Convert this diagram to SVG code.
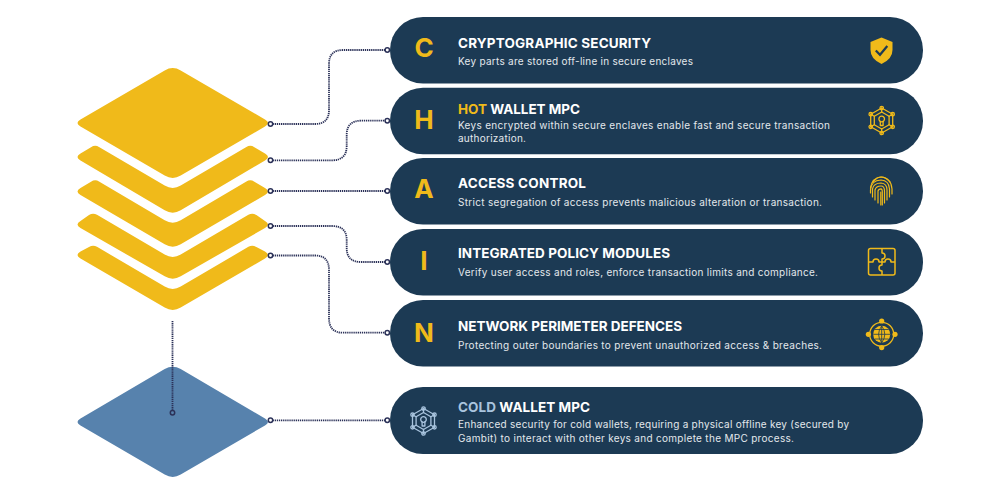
<svg xmlns="http://www.w3.org/2000/svg" width="1000" height="500" viewBox="0 0 1000 500">
<style>
.y{fill:#f0ba1a}
.pill{fill:#1c3a54}
.wire{fill:none;stroke:#2b3158;stroke-width:1.8;stroke-dasharray:1.3 .8}
.dot{fill:#fff;stroke:#2b3158;stroke-width:1.5}
.ltr{font:700 26px Inter,"Liberation Sans",sans-serif;fill:#f0ba1a;text-anchor:middle}
.ttl{font:700 13.5px Inter,"Liberation Sans",sans-serif;fill:#fff}
.dsc{font:400 10px Inter,"Liberation Sans",sans-serif;fill:#e3e8ec}
.ln{fill:none;stroke-width:1.3;stroke-linecap:round;stroke-linejoin:round}
</style>
<defs>
<g id="net" class="ln">
<path d="M0,-12.5L11,-6.3V6.3L0,12.5L-11,6.3V-6.3Z"/>
<path d="M0,-8.5L7.4,-4.2V4.2L0,8.5L-7.4,4.2V-4.2Z"/>
<path d="M0,-12.5V-8.5M11,-6.3L7.4,-4.2M11,6.3L7.4,4.2M0,12.5V8.5M-11,6.3L-7.4,4.2M-11,-6.3L-7.4,-4.2"/>
<circle cy="-12.5" r="1.7"/><circle cx="11" cy="-6.3" r="1.7"/><circle cx="11" cy="6.3" r="1.7"/><circle cy="12.5" r="1.7"/><circle cx="-11" cy="6.3" r="1.7"/><circle cx="-11" cy="-6.3" r="1.7"/>
<circle cy="-1.5" r="2.8"/><path d="M-1.4,1V5H1.4V1"/>
</g>
</defs>
<g id="layer-stack">
<path id="layer-c" class="y" d="M164.7,70.4Q172.7,65.7 180.7,70.4L265,119.5Q271,123 265,126.5L180.7,175.6Q172.7,180.3 164.7,175.6L80.5,126.5Q74.5,123 80.5,119.5Z"/>
<path id="layer-h" class="y" d="M80.5,153.5L91,147.3Q95,144.5 99,147L164.7,185.6Q172.7,190.3 180.7,185.6L246.4,147Q250.4,144.5 254.4,147.3L265,153.5Q271,157 265,160.5L180.7,210.3Q172.7,215 164.7,210.3L80.5,160.5Q74.5,157 80.5,153.5Z"/>
<path id="layer-a" class="y" d="M80.5,188L91,181.8Q95,179 99,181.5L164.7,220.3Q172.7,225 180.7,220.3L246.4,181.5Q250.4,179 254.4,181.8L265,188Q271,191.5 265,195L180.7,244.3Q172.7,249 164.7,244.3L80.5,195Q74.5,191.5 80.5,188Z"/>
<path id="layer-i" class="y" d="M80.5,221L89,215Q93,212.5 97,214.8L164.7,254.6Q172.7,259.3 180.7,254.6L248.4,214.8Q252.4,212.5 256.4,215L265,221Q271,224.5 265,228L180.7,276.3Q172.7,281 164.7,276.3L80.5,228Q74.5,224.5 80.5,221Z"/>
<path id="layer-n" class="y" d="M80.5,251.5L89,247Q93,244.5 97,246.8L164.7,286.6Q172.7,291.3 180.7,286.6L248.4,246.8Q252.4,244.5 256.4,247L265,251.5Q271,255 265,258.5L180.7,307.6Q172.7,312.3 164.7,307.6L80.5,258.5Q74.5,255 80.5,251.5Z"/>
<path id="layer-cold" fill="#5782ad" d="M164.7,369.1Q172.7,364.4 180.7,369.1L265,418.4Q271,421.9 265,425.4L180.7,474.6Q172.7,479.3 164.7,474.6L80.5,425.4Q74.5,421.9 80.5,418.4Z"/>
</g>
<g id="connectors">
<path class="wire" d="M270.5,124H315Q329,124 329,110V64Q329,50 343,50H387"/>
<path class="wire" d="M270.5,160.3H332Q346.7,160.3 346.7,146V135Q346.7,120.7 361,120.7H387"/>
<path class="wire" d="M270.5,191H387"/>
<path class="wire" d="M270.5,226H332Q346.700,226 346.700,240V248Q346.700,262 361,262H387"/>
<path class="wire" d="M270.5,255.5H315Q329,255.5 329,270V318Q329,332.700 343,332.700H387"/>
<path class="wire" d="M270.5,420.3H387"/>
<path class="wire" d="M172.5,321V412.7"/>
<circle class="dot" cx="270.5" cy="124" r="2.2"/><circle class="dot" cx="270.5" cy="160.3" r="2.2"/><circle class="dot" cx="270.5" cy="191" r="2.2"/><circle class="dot" cx="270.5" cy="226" r="2.2"/><circle class="dot" cx="270.5" cy="255.5" r="2.2"/><circle class="dot" cx="270.5" cy="420.3" r="2.2"/>
<circle class="dot" cx="387.3" cy="50" r="2.2"/><circle class="dot" cx="387.3" cy="120.7" r="2.2"/><circle class="dot" cx="387.3" cy="191" r="2.2"/><circle class="dot" cx="387.3" cy="262" r="2.2"/><circle class="dot" cx="387.3" cy="332.7" r="2.2"/><circle class="dot" cx="387.3" cy="420.3" r="2.2"/>
<circle cx="172.5" cy="412.7" r="2.2" fill="#5782ad" stroke="#2b3158" stroke-width="1.5"/>
</g>
<g id="node-c">
<rect class="pill" x="390" y="17" width="533" height="66.500" rx="33"/>
<text class="ltr" x="424" y="56.500">C</text>
<text class="ttl" x="458" y="47.500" textLength="193">CRYPTOGRAPHIC SECURITY</text>
<text class="dsc" x="458" y="65" textLength="235">Key parts are stored off-line in secure enclaves</text>
<path class="y" d="M881.500,37.500L892.500,42V50Q892.500,59 881.500,64Q870.500,59 870.500,50V42Z"/>
<path d="M875.800,50.500L880,54.800L887.300,46" fill="none" stroke="#1c3a54" stroke-width="2.200"/>
</g>
<g id="node-h">
<rect class="pill" x="390" y="87.700" width="533" height="66.500" rx="33"/>
<text class="ltr" x="424" y="129">H</text>
<text class="ttl" x="458" y="113.500" textLength="122"><tspan fill="#f0ba1a">HOT</tspan> WALLET MPC</text>
<text class="dsc" x="458" y="129" textLength="372">Keys encrypted within secure enclaves enable fast and secure transaction</text>
<text class="dsc" x="458" y="141.500" textLength="68">authorization.</text>
<use href="#net" x="881.700" y="120.500" stroke="#f0ba1a"/>
</g>
<g id="node-a">
<rect class="pill" x="390" y="158" width="533" height="66.500" rx="33"/>
<text class="ltr" x="424" y="198">A</text>
<text class="ttl" x="458" y="187.500" textLength="128">ACCESS CONTROL</text>
<text class="dsc" x="458" y="206" textLength="364">Strict segregation of access prevents malicious alteration or transaction.</text>
<g fill="none" stroke="#f0ba1a" stroke-width="1.200" stroke-linecap="round">
<path d="M873,182Q881,172 890,182"/>
<path d="M870.500,188Q872,177.500 881,177Q891,177.500 892,189V194"/>
<path d="M870.500,193V190Q871,180.500 881,180Q889,180.500 889.500,189V197"/>
<path d="M872.500,197V189Q873.500,183 881,183Q887,183.500 887,190V200"/>
<path d="M875,200V190Q876,186 881,186Q884.500,186 884.500,191V203"/>
<path d="M878,203V191Q878.500,188.800 881,188.800Q882.300,189 882.300,192V205"/>
<path d="M880.800,192V205"/>
</g>
</g>
<g id="node-i">
<rect class="pill" x="390" y="229" width="533" height="66.500" rx="33"/>
<text class="ltr" x="424" y="270">I</text>
<text class="ttl" x="458" y="258" textLength="212">INTEGRATED POLICY MODULES</text>
<text class="dsc" x="458" y="276" textLength="360">Verify user access and roles, enforce transaction limits and compliance.</text>
<g fill="none" stroke="#f0ba1a" stroke-width="1.500" stroke-linejoin="round">
<rect x="868.500" y="248.500" width="26.500" height="26.500" rx="2"/>
<path d="M882,248.500V253Q885,253 885,256Q885,259 882,259V262"/>
<path d="M868.500,262H873Q873,259 876,259Q879,259 879,262H882V265Q879,265 879,268Q879,271 882,271V275"/>
<path d="M882,262H885Q885,259 888,259Q891,259 891,262H895"/>
</g>
</g>
<g id="node-n">
<rect class="pill" x="390" y="300" width="533" height="66.500" rx="33"/>
<text class="ltr" x="424" y="342">N</text>
<text class="ttl" x="458" y="331" textLength="224">NETWORK PERIMETER DEFENCES</text>
<text class="dsc" x="458" y="349" textLength="364">Protecting outer boundaries to prevent unauthorized access &amp; breaches.</text>
<circle cx="881.700" cy="334.300" r="12" fill="none" stroke="#f0ba1a" stroke-width="1.300"/>
<circle class="y" cx="881.700" cy="334.300" r="8.500"/>
<g class="y"><circle cx="881.700" cy="321" r="2.600"/><circle cx="881.700" cy="347.600" r="2.600"/><circle cx="868.400" cy="334.300" r="2.600"/><circle cx="895" cy="334.300" r="2.600"/></g>
<path d="M873.200,334.300H890.200M875,329.500H888.500M875,339H888.500M881.700,325.800V342.800M881.700,325.800Q875.500,334.300 881.700,342.800M881.700,325.800Q887.900,334.300 881.700,342.800" fill="none" stroke="#1c3a54" stroke-width=".8"/>
</g>
<g id="node-cold">
<rect class="pill" x="390" y="387" width="533" height="67" rx="33"/>
<use href="#net" x="423.500" y="421" stroke="#a9c4de"/>
<text class="ttl" x="458" y="412" textLength="132"><tspan fill="#a9c4de">COLD</tspan> WALLET MPC</text>
<text class="dsc" x="458" y="428" textLength="391">Enhanced security for cold wallets, requiring a physical offline key (secured by</text>
<text class="dsc" x="458" y="442" textLength="336">Gambit) to interact with other keys and complete the MPC process.</text>
</g>
</svg>
